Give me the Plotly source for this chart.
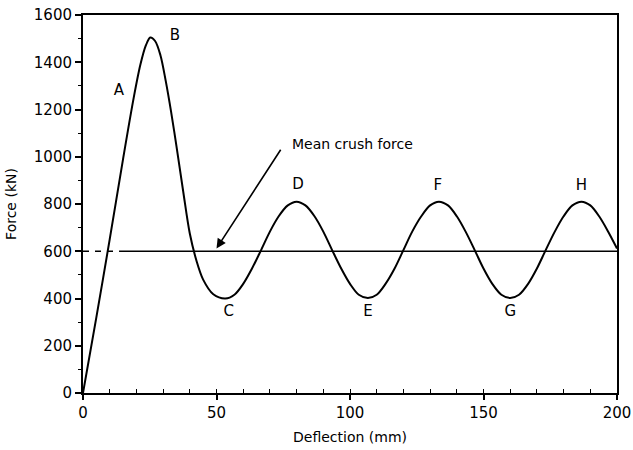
import plotly.graph_objects as go

# Force-deflection curve
deflection = [0, 5, 10, 15, 19, 21.5, 23.5, 25.2, 27, 29, 31, 33, 35, 37.5,
              40, 42.5, 45.0, 48.8,
              53.3, 56.7, 60.0, 63.3, 66.7, 70.0, 73.3, 76.7, 80.0, 83.3, 86.7, 90.0,
              93.3, 96.7, 100.0, 103.3, 106.7, 110.0, 113.3, 116.7, 120.0, 123.3, 126.7,
              130.0, 133.3, 136.7, 140.0, 143.3, 146.7, 150.0, 153.3, 156.7, 160.0, 163.3,
              166.7, 170.0, 173.3, 176.7, 180.0, 183.3, 186.7, 190.0, 193.3, 196.7, 200.0]
force = [0, 320, 650, 990, 1250, 1390, 1470, 1505, 1490, 1430, 1320, 1190, 1045, 855,
         675, 560, 480, 418,
         400, 416, 462, 527, 605, 683, 748, 794, 810, 794, 748, 683,
         605, 527, 462, 416, 402, 416, 462, 527, 605, 683, 748,
         794, 810, 794, 748, 683, 605, 527, 462, 416, 402, 416,
         462, 527, 605, 683, 748, 794, 810, 794, 748, 683, 612]

mean_force = 600
mean_dashed_x = [0, 13.5]
mean_solid_x = [13.5, 200]

point_labels = ["A", "B", "C", "D", "E", "F", "G", "H"]
label_x = [13.4, 34.4, 54.6, 80.5, 106.7, 132.9, 160, 186.7]
label_y = [1278, 1511, 340, 881, 340, 877, 340, 877]

x_ticks = [0, 50, 100, 150, 200]
y_ticks = [0, 200, 400, 600, 800, 1000, 1200, 1400, 1600]

FONT = "DejaVu Sans, Liberation Sans, Arial, sans-serif"

fig = go.Figure()
fig.add_trace(go.Scatter(x=deflection, y=force, mode="lines",
                         line=dict(color="black", width=2, shape="spline", smoothing=0.9),
                         showlegend=False, hoverinfo="skip"))
fig.add_trace(go.Scatter(x=mean_dashed_x, y=[mean_force] * 2, mode="lines",
                         line=dict(color="black", width=1.6, dash="6px,6px"),
                         showlegend=False, hoverinfo="skip"))
fig.add_trace(go.Scatter(x=mean_solid_x, y=[mean_force] * 2, mode="lines",
                         line=dict(color="black", width=1.6),
                         showlegend=False, hoverinfo="skip"))
fig.add_trace(go.Scatter(x=label_x, y=label_y, mode="text", text=point_labels,
                         textfont=dict(family=FONT, size=15, color="black"),
                         showlegend=False, hoverinfo="skip"))

fig.add_annotation(x=50, y=612, ax=74.4, ay=1036, xref="x", yref="y", axref="x", ayref="y",
                   showarrow=True, arrowhead=2, arrowsize=1.2, arrowwidth=1.6,
                   arrowcolor="black", text="")
fig.add_annotation(x=77.6, y=1054, xref="x", yref="y", text="Mean crush force",
                   showarrow=False, xanchor="left", yanchor="middle",
                   font=dict(family=FONT, size=14, color="black"))

fig.update_layout(
    width=633, height=450,
    margin=dict(l=83, r=16, t=15, b=57),
    paper_bgcolor="white", plot_bgcolor="white",
    font=dict(family=FONT, size=15, color="black"),
    xaxis=dict(range=[0, 200], tickvals=x_ticks, showgrid=False, zeroline=False,
               automargin=False,
               showline=True, linecolor="black", linewidth=2, mirror=True,
               ticks="outside", ticklen=5, tickwidth=1.5, tickcolor="black",
               minor=dict(dtick=10, ticks="inside", ticklen=4, tickwidth=1, tickcolor="black"),
               title=dict(text="Deflection (mm)", font=dict(size=14, color="black"), standoff=11),
               tickfont=dict(size=15, color="black")),
    yaxis=dict(range=[0, 1600], tickvals=y_ticks, showgrid=False, zeroline=False,
               automargin=False,
               showline=True, linecolor="black", linewidth=2, mirror=True,
               ticks="outside", ticklen=6, tickwidth=1.5, tickcolor="black",
               minor=dict(dtick=100, ticks="outside", ticklen=3, tickwidth=1, tickcolor="black"),
               title=dict(text="Force (kN)", font=dict(size=14, color="black"), standoff=14),
               tickfont=dict(size=15, color="black")),
)

fig.write_html("out.html")
